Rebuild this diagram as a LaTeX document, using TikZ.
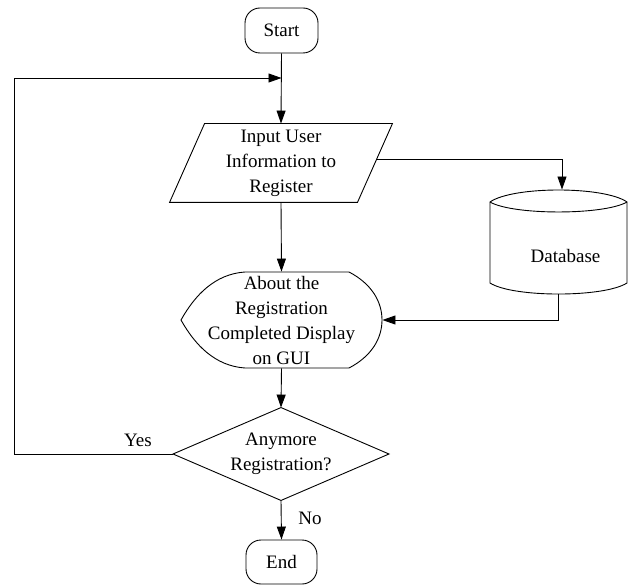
\documentclass[tikz,border=0pt]{standalone}
\usepackage{fontspec}
\setmainfont{Liberation Serif}
\newfontfamily\diagfont{Liberation Serif}
\usetikzlibrary{arrows.meta,calc}
\begin{document}
\begin{tikzpicture}[x=1pt,y=-1pt, line width=0.9pt,
  every node/.style={font=\diagfont\fontsize{19}{25}\selectfont, align=center, inner sep=0pt},
  arr/.style={-{Triangle[length=13pt,width=9pt]}},
  term/.style={draw, rounded corners=15pt, minimum width=73pt, minimum height=45pt},
  ghost/.style={draw=none}]
\useasboundingbox (0,0) rectangle (634,585);

\node[term] (start) at (281.5,30.5) {Start};
\node[ghost, minimum width=222pt, minimum height=78pt] (inp) at (281,163) {Input User\\Information to\\Register};
\draw (inp.south west) -- ($(inp.north west)+(35,0)$) -- (inp.north east) -- ($(inp.south east)+(-35,0)$) -- cycle;

\node[ghost, minimum width=137pt, minimum height=104pt] (db) at (558.5,242) {};
\draw (490,202) .. controls (513,186) and (604,186) .. (627,202) -- (627,283) .. controls (604,297.7) and (513,297.7) .. (490,283) -- cycle;
\draw (490,202) .. controls (513,215.3) and (604,215.3) .. (627,202);
\node (dbtext) at ($(db.center)+(7,14)$) {Database};

\node[ghost, minimum width=201pt, minimum height=96pt] (disp) at (281.5,320) {About the\\Registration\\Completed Display\\on GUI};
\draw (245,272) -- (349,272) .. controls (372,284) and (382,302) .. (382,320) .. controls (382,338) and (372,356) .. (349,368) -- (245,368) .. controls (215,366) and (195,345) .. (181,320) .. controls (195,295) and (215,274) .. (245,272) -- cycle;

\node[ghost, minimum width=215pt, minimum height=92pt] (dec) at (281,454) {Anymore\\Registration?};
\draw (dec.north) -- (dec.east) -- (dec.south) -- (dec.west) -- cycle;

\node[term, minimum width=71pt, minimum height=44pt] (end) at (281.5,562) {End};

\coordinate (jy) at (0,78);
\coordinate (j) at (start.south |- jy);
\coordinate (lx) at (14,78);
\coordinate (pr) at ($(inp.north east)!0.45!(inp.south east)+(-15.75,0)$);
\coordinate (dbin) at ($(db.north)+(3.5,0)$);

\draw[arr] (start.south) -- (inp.north);
\draw[arr] (dec.west) -| (lx) -- (j);
\draw[arr] (pr) -| (dbin);
\draw[arr] (db.south) |- (disp.east);
\draw[arr] (inp.south) -- (disp.north);
\draw[arr] (disp.south) -- (dec.north);
\draw[arr] (dec.south) -- (end.north);

\node (yes) at (138,440) {Yes};
\node (no) at (310,518) {No};
\end{tikzpicture}
\end{document}
